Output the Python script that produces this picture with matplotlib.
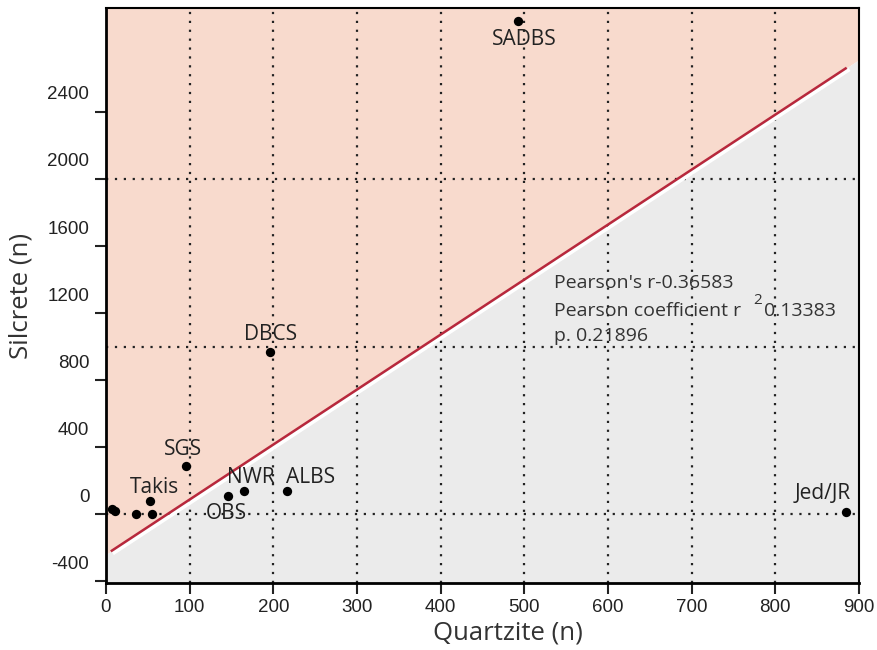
import numpy as np
import matplotlib
matplotlib.use("Agg")
import matplotlib.pyplot as plt
from matplotlib.transforms import ScaledTranslation

# site counts
sites = ['SADBS', 'DBCS', 'SGS', 'Takis', '', '', '', '', 'OBS', 'NWR', 'ALBS', 'Jed/JR']
quartzite = [493, 196, 96, 53, 55, 36, 7, 11, 146, 165, 216, 884]
silcrete = [2943, 967, 287, 82, 2, 2, 32, 20, 110, 139, 137, 15]

# regression line
fit_intercept = -240
fit_slope = 3.28
fit_x = [7, 884]

pearson_r = '-0.36583'
r_squared = '0.13383'
p_value = '0.21896'

# label offsets from the dot, in pixels
label_offsets = {'SADBS': (6, -19), 'DBCS': (1, 18), 'SGS': (-3, 17), 'Takis': (4, 13),
                 'OBS': (-2, -18), 'NWR': (7, 13), 'ALBS': (24, 14), 'Jed/JR': (-23, 18)}

label_font = 'Open Sans'
tick_font = 'Liberation Sans'
plt.rcParams['font.family'] = tick_font
plt.rcParams['axes.unicode_minus'] = False

fig = plt.figure(figsize=(8.78, 6.5), dpi=100)
ax = fig.add_axes([106 / 878, 1 - 583 / 650, (859 - 106) / 878, (583 - 8) / 650])

xmin, xmax = 0, 900
ymin, ymax = -410, 3020
ax.set_xlim(xmin, xmax)
ax.set_ylim(ymin, ymax)

# shaded halves split by the fit line
xs = np.array([xmin, xmax])
line_y = fit_intercept + fit_slope * xs
ax.fill_between(xs, line_y, ymax, color='#f8dacd', zorder=0, lw=0)
ax.fill_between(xs, ymin, line_y, color='#ebebeb', zorder=0, lw=0)

# grid
for gx in range(100, 900, 100):
    ax.axvline(gx, color='#222222', lw=1.6, ls=(0, (1, 3)), zorder=1)
for gy in [0, 1000, 2000]:
    ax.axhline(gy, color='#222222', lw=1.6, ls=(0, (1, 3)), zorder=1)

fx = np.array(fit_x)
fy = fit_intercept + fit_slope * fx
ax.plot(fx + 3, fy - 12, color='white', lw=2.5, zorder=2)
ax.plot(fx, fy, color='#b8283c', lw=1.8, zorder=3)

ax.scatter(quartzite, silcrete, s=45, color='black', zorder=4, lw=0)

for name, qx, sy in zip(sites, quartzite, silcrete):
    if name:
        dx, dy = label_offsets[name]
        ax.annotate(name, (qx, sy), xytext=(dx, dy), textcoords='offset pixels',
                    ha='center', va='center', fontsize=15, family=label_font,
                    color='#222222', zorder=5)

# stats text
ax.text(535, 1379, "Pearson's r" + pearson_r, fontsize=14, family=label_font,
        color='#333333', va='center', ha='left', zorder=5)
ax.text(535, 1212, "Pearson coefficient r", fontsize=14, family=label_font,
        color='#333333', va='center', ha='left', zorder=5)
ax.text(779, 1275, "2", fontsize=11, family=label_font,
        color='#333333', va='center', ha='center', zorder=5)
ax.text(787, 1212, r_squared, fontsize=14, family=label_font,
        color='#333333', va='center', ha='left', zorder=5)
ax.text(535, 1063, "p. " + p_value, fontsize=14, family=label_font,
        color='#333333', va='center', ha='left', zorder=5)

# axes, ticks
ax.set_xticks(range(0, 901, 100))
ax.set_yticks(range(-400, 2401, 400))
ax.tick_params(axis='both', direction='out', length=8, width=1.5, labelsize=13.5,
               color='#222222', labelcolor='#222222')
ax.tick_params(axis='y', pad=4)
# y labels sit above their tick marks in the original
shift = ScaledTranslation(0, 0.19, fig.dpi_scale_trans)
for lab in ax.get_yticklabels():
    lab.set_transform(lab.get_transform() + shift)

for side in ['left', 'bottom']:
    ax.spines[side].set_linewidth(2)
for side in ['top', 'right']:
    ax.spines[side].set_linewidth(1.5)

ax.set_xlabel('Quartzite (n)', fontsize=18.5, family=label_font, color='#333333')
ax.xaxis.set_label_coords((508 - 106) / 753, -0.066)
ax.set_ylabel('Silcrete (n)', fontsize=18.5, family=label_font, color='#333333', labelpad=10)

fig.savefig('out.png', dpi=100)
